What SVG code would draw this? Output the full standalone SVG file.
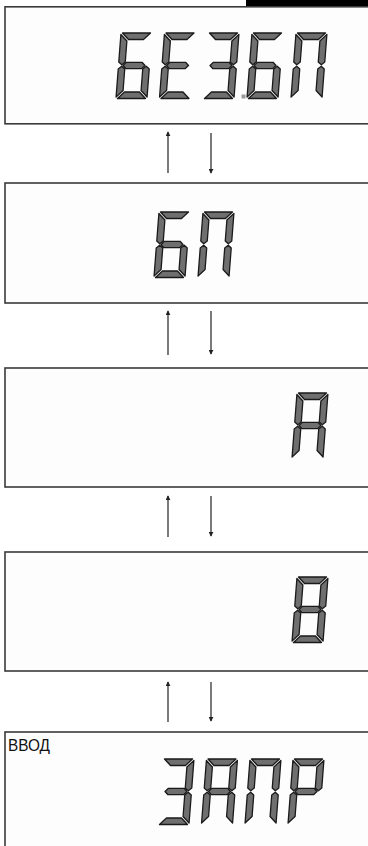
<svg xmlns="http://www.w3.org/2000/svg" xmlns:xlink="http://www.w3.org/1999/xlink" width="368" height="846" viewBox="0 0 368 846">
<style>
.box{fill:#fdfdfd;stroke:#3a3a3a;stroke-width:1.6}
.seg{fill:#6f6f6f;stroke:#1a1a1a;stroke-width:1.3;stroke-linejoin:round}
.conn{stroke:#333;stroke-width:1.3;fill:none}
.lbl{font-family:"Liberation Sans",Arial,sans-serif;font-size:16px;fill:#111}
</style>
<defs>
<marker id="ah" viewBox="0 0 6 6" refX="5" refY="3" markerWidth="5" markerHeight="5" orient="auto" markerUnits="userSpaceOnUse">
<path d="M0,0 L6,3 L0,6 Z" fill="#222"/>
</marker>
<path id="sa" class="seg" d="M1.5,0 H29.5 L23,6.5 H8 Z"/>
<path id="sf" class="seg" d="M0,1.5 L6.5,8 V29 L3.2,31.8 L0,29 Z"/>
<path id="sb" class="seg" d="M31,1.5 L24.5,8 V29 L27.8,31.8 L31,29 Z"/>
<path id="sg" class="seg" d="M4.5,32.5 L7.7,29.3 H23.3 L26.5,32.5 L23.3,35.7 H7.7 Z"/>
<path id="se" class="seg" d="M0,36 L3.2,33.2 L6.5,36 V57.5 L0,64 Z"/>
<path id="sc" class="seg" d="M31,36 L27.8,33.2 L24.5,36 V57.5 L31,64 Z"/>
<path id="sd" class="seg" d="M1.5,65.5 H29.5 L23,59 H8 Z"/>
<g id="dB"><use xlink:href="#sa"/><use xlink:href="#sf"/><use xlink:href="#sg"/><use xlink:href="#se"/><use xlink:href="#sd"/><use xlink:href="#sc"/></g>
<g id="dE"><use xlink:href="#sa"/><use xlink:href="#sf"/><use xlink:href="#sg"/><use xlink:href="#se"/><use xlink:href="#sd"/></g>
<g id="dZ"><use xlink:href="#sa"/><use xlink:href="#sb"/><use xlink:href="#sg"/><use xlink:href="#sc"/><use xlink:href="#sd"/></g>
<g id="dP"><use xlink:href="#sa"/><use xlink:href="#sf"/><use xlink:href="#sb"/><use xlink:href="#se"/><use xlink:href="#sc"/></g>
<g id="dA"><use xlink:href="#sa"/><use xlink:href="#sf"/><use xlink:href="#sb"/><use xlink:href="#sg"/><use xlink:href="#se"/><use xlink:href="#sc"/></g>
<g id="d8"><use xlink:href="#sa"/><use xlink:href="#sf"/><use xlink:href="#sb"/><use xlink:href="#sg"/><use xlink:href="#se"/><use xlink:href="#sc"/><use xlink:href="#sd"/></g>
<g id="dR"><use xlink:href="#sa"/><use xlink:href="#sf"/><use xlink:href="#sb"/><use xlink:href="#sg"/><use xlink:href="#se"/></g>
</defs>
<rect width="368" height="846" fill="#ffffff"/>
<rect x="246" y="0" width="122" height="6" fill="#000"/>

<g id="node1">
<rect class="box" x="5" y="6.8" width="380" height="117"/>
<use xlink:href="#dB" transform="translate(121,33) skewX(-4.4)"/>
<use xlink:href="#dE" transform="translate(164.5,33) skewX(-4.4)"/>
<use xlink:href="#dZ" transform="translate(208,33) skewX(-4.4)"/>
<rect x="241.5" y="94.5" width="4" height="4" fill="#9a9a9a"/>
<use xlink:href="#dB" transform="translate(252,33) skewX(-4.4)"/>
<use xlink:href="#dP" transform="translate(296,33) skewX(-4.4)"/>
</g>

<g id="node2">
<rect class="box" x="5" y="183" width="380" height="120"/>
<use xlink:href="#dB" transform="translate(159,212) skewX(-4.4)"/>
<use xlink:href="#dP" transform="translate(203,212) skewX(-4.4)"/>
</g>

<g id="node3">
<rect class="box" x="5" y="368" width="380" height="119"/>
<use xlink:href="#dA" transform="translate(297,393) skewX(-4.4)"/>
</g>

<g id="node4">
<rect class="box" x="5" y="552" width="380" height="119"/>
<use xlink:href="#d8" transform="translate(297,577) skewX(-4.4)"/>
</g>

<g id="node5">
<rect class="box" x="5" y="732" width="380" height="130"/>
<text class="lbl" x="8" y="751" textLength="42" lengthAdjust="spacingAndGlyphs">ВВОД</text>
<use xlink:href="#dZ" transform="translate(163,759) skewX(-4.4)"/>
<use xlink:href="#dA" transform="translate(206.5,759) skewX(-4.4)"/>
<use xlink:href="#dP" transform="translate(250,759) skewX(-4.4)"/>
<use xlink:href="#dR" transform="translate(293,759) skewX(-4.4)"/>
</g>

<g id="connectors">
<line class="conn" x1="168" y1="173" x2="168" y2="132" marker-end="url(#ah)"/>
<line class="conn" x1="211" y1="133" x2="211" y2="173" marker-end="url(#ah)"/>
<line class="conn" x1="168" y1="355" x2="168" y2="311" marker-end="url(#ah)"/>
<line class="conn" x1="211" y1="311" x2="211" y2="354" marker-end="url(#ah)"/>
<line class="conn" x1="168" y1="537" x2="168" y2="496" marker-end="url(#ah)"/>
<line class="conn" x1="211" y1="496" x2="211" y2="536" marker-end="url(#ah)"/>
<line class="conn" x1="168" y1="722" x2="168" y2="682" marker-end="url(#ah)"/>
<line class="conn" x1="211" y1="682" x2="211" y2="721" marker-end="url(#ah)"/>
</g>
</svg>
